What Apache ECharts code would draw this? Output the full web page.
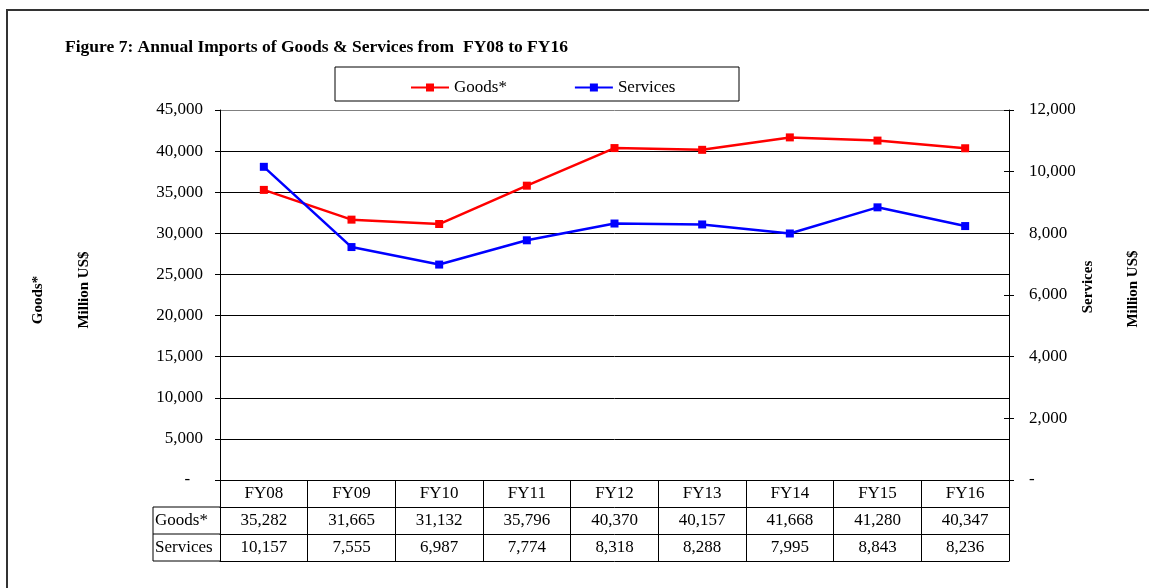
<!DOCTYPE html>
<html><head><meta charset="utf-8">
<script src="https://cdn.jsdelivr.net/npm/echarts@6/dist/echarts.min.js"></script>
<style>html,body{margin:0;padding:0;background:#fff}#c{width:1149px;height:588px}</style>
</head><body><div id="c"></div>
<script>
const titleText = 'Figure 7: Annual Imports of Goods & Services from  FY08 to FY16';
const categories = ['FY08','FY09','FY10','FY11','FY12','FY13','FY14','FY15','FY16'];
const goods = [35282, 31665, 31132, 35796, 40370, 40157, 41668, 41280, 40347];
const services = [10157, 7555, 6987, 7774, 8318, 8288, 7995, 8843, 8236];
const seriesNames = ['Goods*', 'Services'];
const leftAxisNames = ['Goods*', 'Million US$'];
const rightAxisNames = ['Services', 'Million US$'];

const FONT = '"Liberation Serif", "Times New Roman", serif';
const FS = 17;
const GL = 220, GR = 1009, GT = 110, GB = 480, ROW = 27, LABEL_L = 153;
const fmt = v => v.toLocaleString('en-US');

const chart = echarts.init(document.getElementById('c'));
const tableAxis = (offset, formatter, showLabel) => ({
  type: 'category', data: categories, position: 'bottom', offset: offset, boundaryGap: true,
  axisLine: { show: true, onZero: false, lineStyle: { color: '#000', width: 1 } },
  axisTick: { show: showLabel, length: ROW, lineStyle: { color: '#000', width: 1 } },
  axisLabel: { show: showLabel, interval: 0, margin: 5, fontFamily: FONT, fontSize: FS, color: '#000', formatter: formatter },
  splitLine: { show: false }
});

chart.setOption({
  animation: false,
  backgroundColor: '#fff',
  title: { text: titleText, left: 60, top: 33,
    textStyle: { fontFamily: FONT, fontWeight: 'bold', fontSize: 17.5, color: '#000' } },
  legend: { left: 405, top: 74, itemWidth: 38, itemHeight: 10, itemGap: 67,
    textStyle: { fontFamily: FONT, fontSize: FS, color: '#000' },
    data: seriesNames },
  grid: { left: GL, right: 1149 - GR, top: GT, bottom: 588 - GB, containLabel: false },
  xAxis: [
    tableAxis(0, v => v, true),
    tableAxis(ROW, (v, i) => fmt(goods[i]), true),
    tableAxis(ROW * 2, (v, i) => fmt(services[i]), true),
    tableAxis(ROW * 3, v => '', false)
  ],
  yAxis: [
    { type: 'value', position: 'left', min: 0, max: 45000, interval: 5000,
      axisLine: { show: true, lineStyle: { color: '#000' } },
      axisTick: { show: true, length: 5, lineStyle: { color: '#000' } },
      axisLabel: { margin: 17, fontFamily: FONT, fontSize: FS, color: '#000',
        formatter: v => v === 0 ? '-   ' : fmt(v) },
      splitLine: { show: true, lineStyle: { color: ['#000','#000','#000','#000','#000','#000','#000','#000','#000','#808080'], width: 1 } } },
    { type: 'value', position: 'right', min: 0, max: 12000, interval: 2000,
      axisLine: { show: true, lineStyle: { color: '#000' } },
      axisTick: { show: true, length: 5, lineStyle: { color: '#000' } },
      axisLabel: { margin: 20, fontFamily: FONT, fontSize: FS, color: '#000',
        formatter: v => v === 0 ? '-' : fmt(v) },
      splitLine: { show: false } },
    { type: 'value', position: 'right', min: 0, max: 12000, interval: 2000,
      axisLine: { show: false },
      axisTick: { show: true, inside: true, length: 5, lineStyle: { color: '#000' } },
      axisLabel: { show: false }, splitLine: { show: false } }
  ],
  series: [
    { name: seriesNames[0], type: 'line', xAxisIndex: 0, yAxisIndex: 0, data: goods,
      symbol: 'rect', symbolSize: 8, color: '#ff0000',
      lineStyle: { color: '#ff0000', width: 2.5 }, itemStyle: { color: '#ff0000' } },
    { name: seriesNames[1], type: 'line', xAxisIndex: 0, yAxisIndex: 1, data: services,
      symbol: 'rect', symbolSize: 8, color: '#0000ff',
      lineStyle: { color: '#0000ff', width: 2.5 }, itemStyle: { color: '#0000ff' } }
  ],
  graphic: [
    { type: 'rect', shape: { x: 7, y: 10, width: 1300, height: 700 }, style: { fill: 'none', stroke: '#333', lineWidth: 2 }, silent: true },
    { type: 'rect', shape: { x: 335, y: 67, width: 404, height: 34 }, style: { fill: 'none', stroke: '#000', lineWidth: 1 }, silent: true },
    { type: 'line', shape: { x1: LABEL_L, y1: GB + ROW, x2: GL, y2: GB + ROW }, style: { stroke: '#000', lineWidth: 1 } },
    { type: 'line', shape: { x1: LABEL_L, y1: GB + ROW * 2, x2: GL, y2: GB + ROW * 2 }, style: { stroke: '#000', lineWidth: 1 } },
    { type: 'line', shape: { x1: LABEL_L, y1: GB + ROW * 3, x2: GL, y2: GB + ROW * 3 }, style: { stroke: '#000', lineWidth: 1 } },
    { type: 'line', shape: { x1: LABEL_L, y1: GB + ROW, x2: LABEL_L, y2: GB + ROW * 3 }, style: { stroke: '#000', lineWidth: 1 } },
    { type: 'text', x: LABEL_L + 2, y: GB + ROW * 1.5, style: { text: seriesNames[0], font: FS + 'px ' + FONT, fill: '#000', textVerticalAlign: 'middle' } },
    { type: 'text', x: LABEL_L + 2, y: GB + ROW * 2.5, style: { text: seriesNames[1], font: FS + 'px ' + FONT, fill: '#000', textVerticalAlign: 'middle' } },
    { type: 'text', x: 38, y: 300, rotation: Math.PI / 2, style: { text: leftAxisNames[0], font: 'bold 15px ' + FONT, fill: '#000', textAlign: 'center', textVerticalAlign: 'middle' } },
    { type: 'text', x: 84, y: 290, rotation: Math.PI / 2, style: { text: leftAxisNames[1], font: 'bold 15px ' + FONT, fill: '#000', textAlign: 'center', textVerticalAlign: 'middle' } },
    { type: 'text', x: 1088, y: 287, rotation: Math.PI / 2, style: { text: rightAxisNames[0], font: 'bold 15px ' + FONT, fill: '#000', textAlign: 'center', textVerticalAlign: 'middle' } },
    { type: 'text', x: 1133, y: 289, rotation: Math.PI / 2, style: { text: rightAxisNames[1], font: 'bold 15px ' + FONT, fill: '#000', textAlign: 'center', textVerticalAlign: 'middle' } }
  ]
});
</script></body></html>
